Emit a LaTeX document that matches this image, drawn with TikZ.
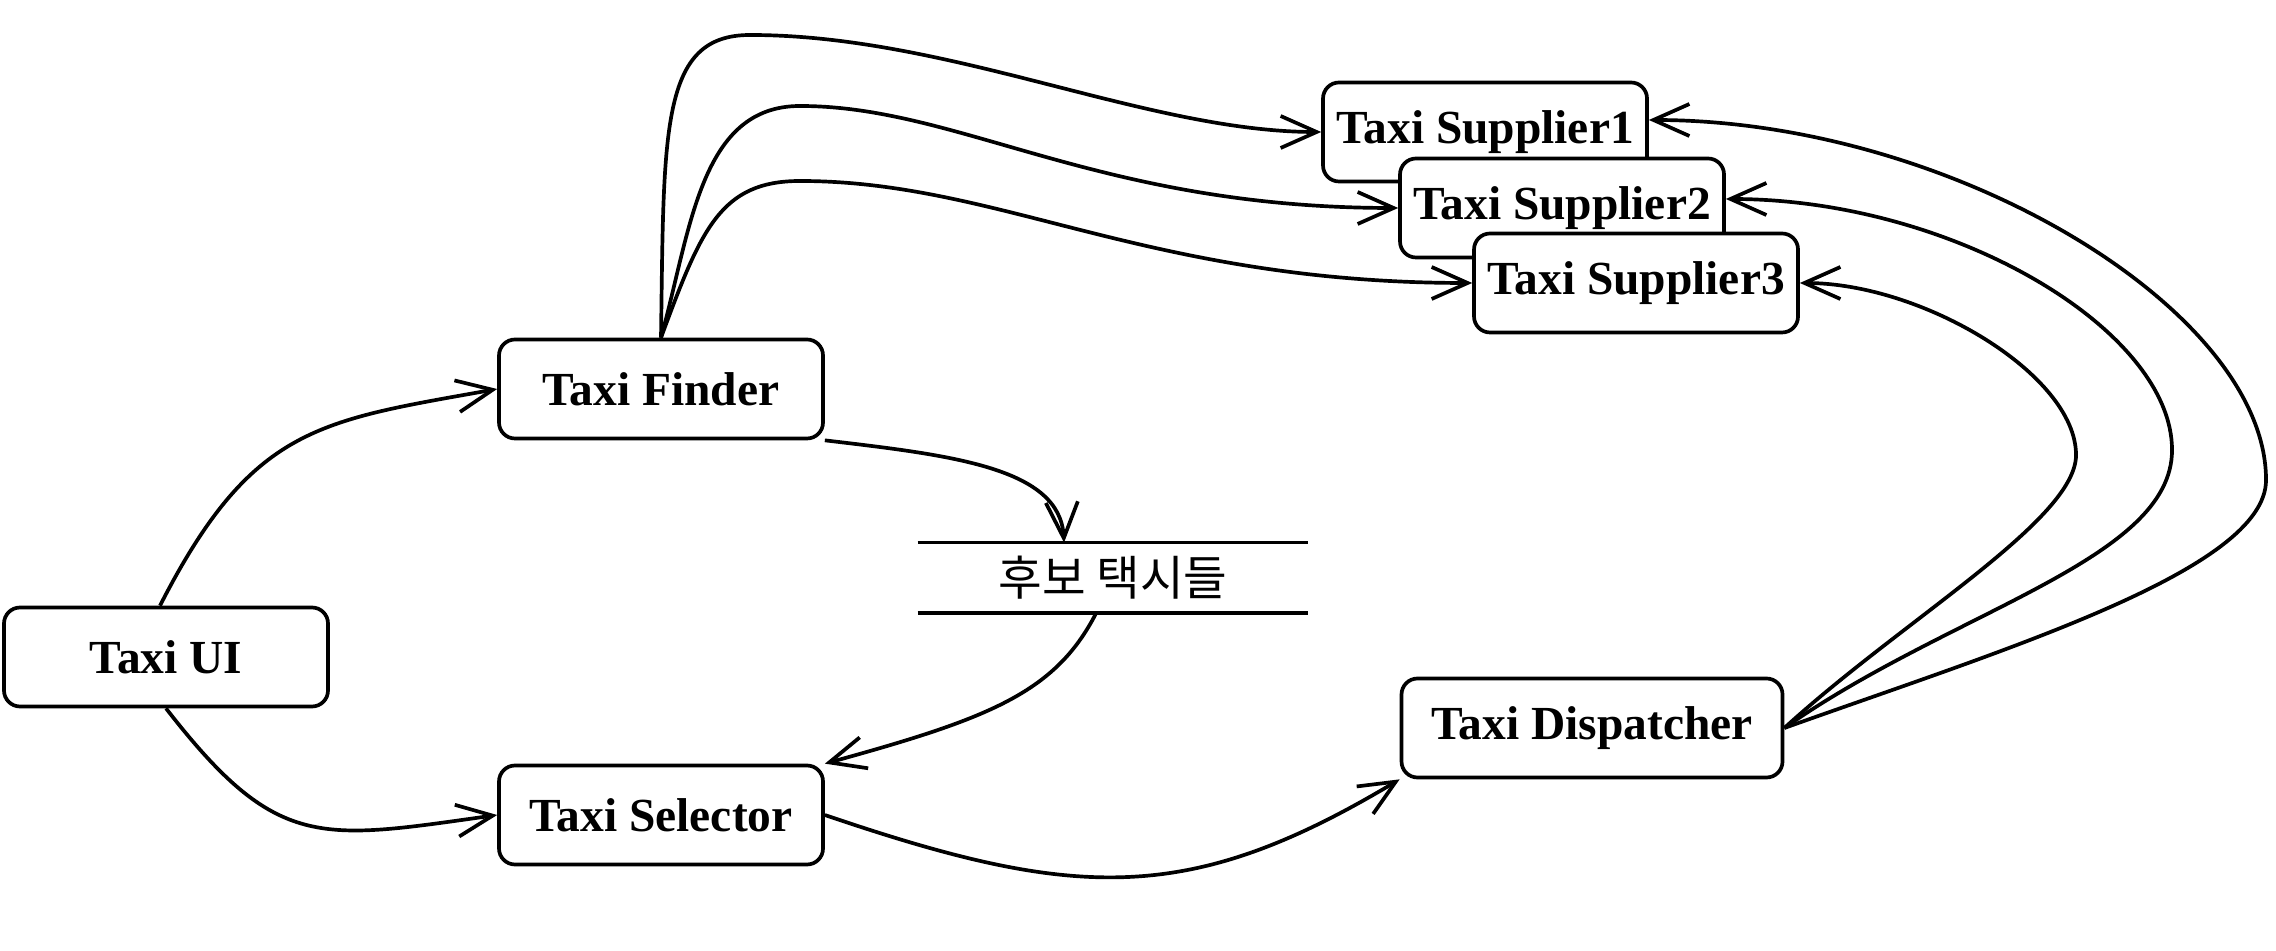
\documentclass[tikz,border=0pt]{standalone}
\usepackage{fontspec}
\setmainfont{Liberation Serif}
\newfontfamily\krfont{Noto Sans CJK KR}
\usetikzlibrary{arrows.meta}

\begin{document}
\begin{tikzpicture}[>={Straight Barb[length=3.6mm,width=3.2mm]}, line width=1.05pt, line join=round,
    main node/.style={draw, fill=white, rounded corners=1.6mm, minimum width=3.24cm, minimum height=0.99cm, inner sep=0pt, font=\fontsize{13.5}{16}\selectfont\bfseries},
    store node/.style={minimum width=3.87cm, minimum height=0.67cm, inner sep=0pt, font=\krfont\fontsize{13.5}{16}\selectfont}]

      \useasboundingbox (0,0) rectangle (22.76,9.5);

      \node[main node] (ui) at (1.66,2.93) {Taxi UI};
      \node[main node] (finder) at (6.61,5.61) {Taxi Finder};
      \node[main node] (selector) at (6.61,1.35) {Taxi Selector};
      \node[store node] (cand) at (11.13,3.72) {후보 택시들};
      \node[main node, minimum width=3.81cm] (dispatcher) at (15.92,2.22) {Taxi Dispatcher};
      \node[main node] (sup1) at (14.85,8.18) {Taxi Supplier1};
      \node[main node] (sup2) at (15.62,7.42) {Taxi Supplier2};
      \node[main node] (sup3) at (16.36,6.67) {Taxi Supplier3};

      \draw (cand.north west) -- (cand.north east);
      \draw (cand.south west) -- (cand.south east);

      % UI side
      \draw[->] ([xshift=-0.06cm]ui.north) .. controls +(0.92,1.8) and +(-1.78,-0.32) .. (finder.west);
      \draw[->] (ui.south) .. controls +(1.11,-1.43) and +(-1.78,-0.25) .. (selector.west);

      % candidates
      \draw[->] (finder.south east) .. controls +(1.27,-0.15) and +(-0.04,0.75) .. ([xshift=-0.49cm]cand.north);
      \draw[->] ([xshift=-0.17cm]cand.south) .. controls +(-0.41,-0.8) and +(1.63,0.45) .. (selector.north east);
      \draw[->] (selector.east) .. controls +(2.5,-0.85) and +(-2.12,-1.27) .. (dispatcher.south west);

      % finder to suppliers
      \draw[->] (finder.north) .. controls +(0.03,2.08) and +(-0.9,0) .. (7.5,9.15)
        .. controls +(2,0) and +(-1.74,0) .. (sup1.west);
      \draw[->] (finder.north) .. controls +(0.3,1.08) and +(-1,0) .. (8,8.44)
        .. controls +(1.6,0) and +(-3,0) .. (sup2.west);
      \draw[->] (finder.north) .. controls +(0.4,1.08) and +(-0.8,0) .. (8,7.69)
        .. controls +(2,0) and +(-3.25,0) .. (sup3.west);

      % dispatcher to suppliers
      \draw[->] (dispatcher.east) .. controls +(2.18,0.78) and +(0,-0.9) .. (22.66,4.7)
        .. controls +(0,1.7) and +(3.03,0) .. ([yshift=0.12cm]sup1.east);
      \draw[->] (dispatcher.east) .. controls +(1.68,1.18) and +(0,-1.1) .. (21.72,5)
        .. controls +(0,1.2) and +(2.27,0) .. ([yshift=0.09cm]sup2.east);
      \draw[->] (dispatcher.east) .. controls +(1.18,1.08) and +(0,-0.65) .. (20.76,4.95)
        .. controls +(0,0.8) and +(1.23,0) .. (sup3.east);

\end{tikzpicture}
\end{document}
